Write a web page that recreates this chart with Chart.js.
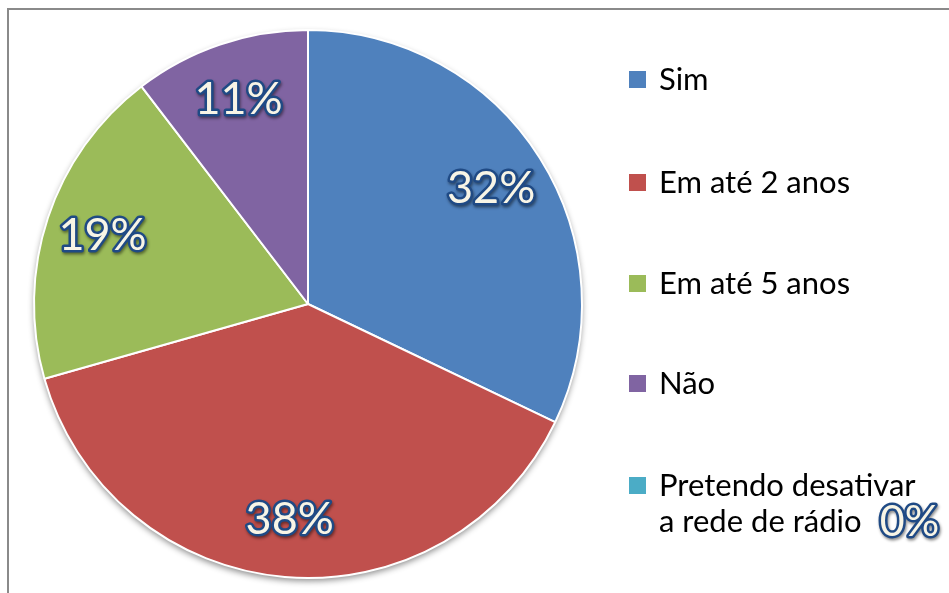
<!DOCTYPE html>
<html lang="pt-BR">
<head>
  <meta charset="UTF-8" />
  <title>Gráfico de pizza</title>
  <script src="https://cdn.jsdelivr.net/npm/chart.js"></script>
  <style>
    html, body { margin: 0; padding: 0; background: #fff; overflow: hidden; }
    .frame {
      position: absolute; left: 7px; top: 8px; width: 1200px; height: 800px;
      border: 2px solid #8a8a8a; box-sizing: border-box;
    }
    .wrap { position: absolute; left: 0; top: 0; width: 949px; height: 593px; }
  </style>
</head>
<body>
  <div class="frame"></div>
  <div class="wrap">
    <canvas id="pieChart" width="949" height="593"></canvas>
  </div>

  <script>
    // dados do gráfico
    const categorias = ['Sim', 'Em até 2 anos', 'Em até 5 anos', 'Não', ['Pretendo desativar', 'a rede de rádio']];
    const valores = [32.1, 38.5, 19.0, 10.4, 0];
    const rotulos = ['32%', '38%', '19%', '11%', '0%'];
    const cores = ['#4F81BD', '#C0504D', '#9BBB59', '#8064A2', '#4BACC6'];

    const fonte = 'Lato, "Open Sans", sans-serif';

    // desenha texto com contorno azul (estilo WordArt)
    function textoContornado(ctx, txt, x, y, size) {
      ctx.save();
      ctx.font = size + 'px ' + fonte;
      ctx.textAlign = 'center';
      ctx.textBaseline = 'middle';
      ctx.shadowColor = 'rgba(0,0,0,0.45)';
      ctx.shadowBlur = 3;
      ctx.shadowOffsetX = 1;
      ctx.shadowOffsetY = 2;
      ctx.lineJoin = 'round';
      ctx.lineWidth = 5;
      ctx.strokeStyle = '#1F4A85';
      ctx.strokeText(txt, x, y);
      ctx.shadowColor = 'transparent';
      ctx.fillStyle = '#F8F5E6';
      ctx.fillText(txt, x, y);
      ctx.restore();
    }

    // sombra por baixo da pizza
    const sombraPlugin = {
      id: 'sombra',
      beforeDatasetsDraw(chart) {
        const arc = chart.getDatasetMeta(0).data[0];
        const ctx = chart.ctx;
        ctx.save();
        ctx.shadowColor = 'rgba(0,0,0,0.45)';
        ctx.shadowBlur = 6;
        ctx.shadowOffsetY = 3;
        ctx.fillStyle = '#fff';
        ctx.beginPath();
        ctx.arc(arc.x, arc.y, arc.outerRadius, 0, Math.PI * 2);
        ctx.fill();
        ctx.restore();
      }
    };

    // rótulos de porcentagem dentro das fatias
    const rotulosPlugin = {
      id: 'rotulos',
      afterDatasetsDraw(chart) {
        const meta = chart.getDatasetMeta(0);
        meta.data.forEach((arc, i) => {
          if (!valores[i]) return;
          const meio = (arc.startAngle + arc.endAngle) / 2;
          const r = arc.outerRadius * 0.79;
          textoContornado(chart.ctx, rotulos[i], arc.x + Math.cos(meio) * r, arc.y + Math.sin(meio) * r, 45);
        });
      }
    };

    // legenda desenhada à direita
    const legendaPlugin = {
      id: 'legenda',
      afterDraw(chart) {
        const ctx = chart.ctx;
        const ys = [80, 183, 284, 384, 486];
        ctx.save();
        ctx.font = '31px ' + fonte;
        ctx.textBaseline = 'middle';
        categorias.forEach((cat, i) => {
          ctx.fillStyle = cores[i];
          ctx.fillRect(629, ys[i] - 9, 17, 17);
          ctx.fillStyle = '#000';
          const linhas = Array.isArray(cat) ? cat : [cat];
          linhas.forEach((l, j) => ctx.fillText(l, 659, ys[i] + j * 36));
        });
        const w = ctx.measureText(categorias[4][1]).width;
        ctx.restore();
        // 0% da última categoria
        textoContornado(ctx, rotulos[4], 659 + w + 48, 522, 43);
      }
    };

    new Chart(document.getElementById('pieChart'), {
      type: 'pie',
      data: {
        labels: categorias,
        datasets: [{
          data: valores,
          backgroundColor: cores,
          borderColor: '#ffffff',
          borderWidth: 2
        }]
      },
      options: {
        responsive: false,
        animation: false,
        layout: { padding: { left: 32, right: 365, top: 29, bottom: 14 } },
        plugins: {
          legend: { display: false },
          tooltip: { enabled: false }
        }
      },
      plugins: [sombraPlugin, rotulosPlugin, legendaPlugin]
    });
  </script>
</body>
</html>
